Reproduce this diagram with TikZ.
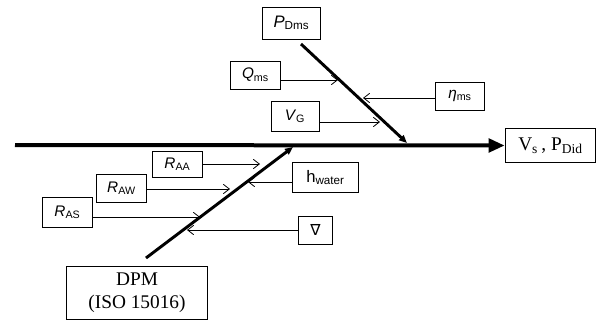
\documentclass[tikz,border=0pt]{standalone}
\usepackage{fontspec}
\setmainfont{Liberation Serif}
\newfontfamily\labelfont{Liberation Sans}
\newfontfamily\symfont{DejaVu Sans}
\usetikzlibrary{arrows.meta}

\tikzset{every picture/.style={line width=0.75pt}}
\tikzset{
  factor/.style={draw,rectangle,inner sep=0pt,font=\labelfont\fontsize{11.5}{13}\selectfont},
  bigbox/.style={draw,rectangle,inner sep=0pt,font=\fontsize{14.5}{17.5}\selectfont,align=center},
  feed/.style={-{Straight Barb[length=4.5pt,width=7pt]},line width=0.6pt},
  bone/.style={-{Triangle[length=6pt,width=5pt]},line width=2.2pt},
  spine/.style={-{Triangle[length=12pt,width=10pt]},line width=3pt}
}
\newcommand{\fac}[2]{\textit{#1}\textsubscript{#2}}

\begin{document}
\begin{tikzpicture}[x=0.75pt,y=0.75pt,yscale=-1,xscale=1]
\useasboundingbox (0,0) rectangle (598,322);

% Text Node
\node [bigbox,minimum width=68pt,minimum height=26pt] (res) at (550.5,145.5) {V\textsubscript{s}\,, P\textsubscript{Did}};
% Text Node
\node [bigbox,minimum width=106pt,minimum height=40pt] (dpm) at (137,293) {DPM\\(ISO 15016)};
% Text Node
\node [factor,minimum width=43pt,minimum height=24pt,font=\labelfont\fontsize{12.5}{14}\selectfont] (pdms) at (291.5,23) {\fac{P}{Dms}};
% Text Node
\node [factor,minimum width=37pt,minimum height=21pt] (qms) at (255.5,75) {\fac{Q}{ms}};
% Text Node
\node [factor,minimum width=37pt,minimum height=21pt] (eta) at (460,96) {\fac{η}{ms}};
% Text Node
\node [factor,minimum width=36pt,minimum height=22pt] (vg) at (295,116.5) {\fac{V}{G}};
% Text Node
\node [factor,minimum width=37pt,minimum height=20pt] (raa) at (177.5,164.5) {\fac{R}{AA}};
% Text Node
\node [factor,minimum width=37pt,minimum height=21pt] (raw) at (121.5,188) {\fac{R}{AW}};
% Text Node
\node [factor,minimum width=37pt,minimum height=22pt] (ras) at (67.5,212.5) {\fac{R}{AS}};
% Text Node
\node [factor,minimum width=49pt,minimum height=22pt,font=\labelfont\fontsize{12.5}{14}\selectfont] (hw) at (325.5,177.5) {h\textsubscript{water}};
% Text Node
\node [factor,minimum width=25pt,minimum height=21pt] (nab) at (315.5,230) {\symfont ∇};

% Bone ends and arrow tips
\coordinate (s0) at (15,145);
\coordinate (ua) at (301,44);
\coordinate (ub) at (407,143);
\coordinate (la) at (146,258);
\coordinate (lb) at (293,147);
\coordinate (tq) at (338,80);
\coordinate (teta) at (363,98);
\coordinate (tvg) at (380,122);
\coordinate (traa) at (260,164);
\coordinate (traw) at (230,189);
\coordinate (tras) at (200,217);
\coordinate (thw) at (248,182);
\coordinate (tnab) at (187,230);

% Connection
\draw [spine] (s0) -- (res.west);
% Connection
\draw [bone] (ua) -- (ub);
% Connection
\draw [bone] (la) -- (lb);
% Connection
\draw [feed] (qms.east |- tq) -- (tq);
\draw [feed] (eta.west |- teta) -- (teta);
\draw [feed] (vg.east |- tvg) -- (tvg);
% Connection
\draw [feed] (raa.east |- traa) -- (traa);
\draw [feed] (raw.east |- traw) -- (traw);
\draw [feed] (ras.east |- tras) -- (tras);
\draw [feed] (hw.west |- thw) -- (thw);
\draw [feed] (nab.west |- tnab) -- (tnab);

\end{tikzpicture}
\end{document}
